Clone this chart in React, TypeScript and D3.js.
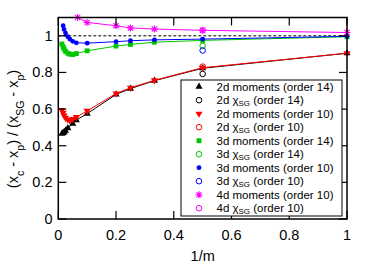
import { useEffect, useRef } from "react";
import * as d3 from "d3";

// 1/m positions and ratios
const black2d14X = [0.0125, 0.0167, 0.02, 0.025, 0.033, 0.05, 0.0625, 0.1, 0.2, 0.25, 0.333, 0.5, 1];
const black2d14Y = [0.466, 0.47, 0.474, 0.482, 0.496, 0.52, 0.54, 0.575, 0.68, 0.712, 0.755, 0.823, 0.905];

const red2d10X = [0.0125, 0.0167, 0.02, 0.025, 0.033, 0.04, 0.05, 0.0625, 0.1, 0.2, 0.25, 0.333, 0.5, 1];
const red2d10Y = [0.595, 0.58, 0.565, 0.552, 0.542, 0.538, 0.545, 0.556, 0.59, 0.685, 0.716, 0.757, 0.826, 0.905];

const green3d14X = [0.0125, 0.0167, 0.02, 0.025, 0.033, 0.04, 0.05, 0.0625, 0.1, 0.2, 0.25, 0.333, 0.5, 1];
const green3d14Y = [0.955, 0.94, 0.928, 0.915, 0.905, 0.9, 0.898, 0.903, 0.918, 0.944, 0.953, 0.965, 0.975, 0.995];

const blue3d10X = [0.0167, 0.02, 0.025, 0.033, 0.04, 0.05, 0.0625, 0.1, 0.2, 0.25, 0.333, 0.5, 1];
const blue3d10Y = [1.055, 1.035, 1.015, 0.995, 0.982, 0.97, 0.962, 0.96, 0.968, 0.973, 0.978, 0.982, 0.997];

const mag4d10X = [0.0667, 0.1, 0.2, 0.25, 0.333, 0.5, 1];
const mag4d10Y = [1.1, 1.073, 1.055, 1.043, 1.037, 1.03, 1.018];

// chi_SG estimates, all at 1/m = 0.5
const chiX = [0.5, 0.5, 0.5, 0.5, 0.5];
const chiY = [0.792, 0.832, 0.945, 0.92, 1.03];
const chiColors = ["#000000", "#ff0000", "#00c800", "#0000ff", "#ff00ff"];

const xTicks = [0, 0.2, 0.4, 0.6, 0.8, 1];
const yTicks = [0, 0.2, 0.4, 0.6, 0.8, 1];

const legendLabels = [
  ["2d moments (order 14)", null],
  ["2d ", "(order 14)"],
  ["2d moments (order 10)", null],
  ["2d ", "(order 10)"],
  ["3d moments (order 14)", null],
  ["3d ", "(order 14)"],
  ["3d moments (order 10)", null],
  ["3d ", "(order 10)"],
  ["4d moments (order 10)", null],
  ["4d ", "(order 10)"],
];

const FONT = "'Liberation Sans', Arial, Helvetica, sans-serif";

export default function App() {
  const ref = useRef<SVGSVGElement | null>(null);

  useEffect(() => {
    if (!ref.current) return;
    const svg = d3.select(ref.current);
    svg.selectAll("*").remove();

    const left = 58.3, right = 347, top = 17.5, bottom = 219;
    const x = d3.scaleLinear().domain([0, 1]).range([left, right]);
    const y = d3.scaleLinear().domain([0, 1.1]).range([bottom, top]);

    svg.append("defs").append("clipPath").attr("id", "plotclip")
      .append("rect").attr("x", left).attr("y", top).attr("width", right - left).attr("height", bottom - top);

    // dashed reference at 1
    svg.append("line")
      .attr("x1", left).attr("x2", right).attr("y1", y(1)).attr("y2", y(1))
      .attr("stroke", "#000").attr("stroke-width", 1).attr("stroke-dasharray", "3,2");

    const line = d3.line<[number, number]>().x(d => x(d[0])).y(d => y(d[1]));
    const plotG = svg.append("g");

    const triUp = d3.symbol().type(d3.symbolTriangle).size(22);
    const sq = d3.symbol().type(d3.symbolSquare).size(24);

    const drawMarker = (g: any, kind: string, color: string, px: number, py: number) => {
      if (kind === "up") {
        g.append("path").attr("d", triUp()).attr("fill", color)
          .attr("transform", `translate(${px},${py})`);
      } else if (kind === "down") {
        g.append("path").attr("d", triUp()).attr("fill", color)
          .attr("transform", `translate(${px},${py}) rotate(180)`);
      } else if (kind === "square") {
        g.append("path").attr("d", sq()).attr("fill", color)
          .attr("transform", `translate(${px},${py})`);
      } else if (kind === "dot") {
        g.append("circle").attr("cx", px).attr("cy", py).attr("r", 2.4).attr("fill", color);
      } else if (kind === "star") {
        const s = 3.5;
        const p = `M${px - s},${py}L${px + s},${py}M${px},${py - s}L${px},${py + s}` +
          `M${px - s * 0.75},${py - s * 0.75}L${px + s * 0.75},${py + s * 0.75}` +
          `M${px - s * 0.75},${py + s * 0.75}L${px + s * 0.75},${py - s * 0.75}`;
        g.append("path").attr("d", p).attr("stroke", color).attr("stroke-width", 1.1).attr("fill", "none");
      } else if (kind === "ring") {
        g.append("circle").attr("cx", px).attr("cy", py).attr("r", 2.8)
          .attr("fill", "none").attr("stroke", color).attr("stroke-width", 1);
      }
    };

    const series = [
      { xs: black2d14X, ys: black2d14Y, color: "#000000", kind: "up" },
      { xs: red2d10X, ys: red2d10Y, color: "#ff0000", kind: "down" },
      { xs: green3d14X, ys: green3d14Y, color: "#00c800", kind: "square" },
      { xs: blue3d10X, ys: blue3d10Y, color: "#0000ff", kind: "dot" },
      { xs: mag4d10X, ys: mag4d10Y, color: "#ff00ff", kind: "star" },
    ];

    series.forEach(s => {
      const pts: [number, number][] = s.xs.map((v, i) => [v, s.ys[i]]);
      plotG.append("path").attr("d", line(pts)).attr("fill", "none")
        .attr("stroke", s.color).attr("stroke-width", 1).attr("clip-path", "url(#plotclip)");
      pts.forEach(p => drawMarker(plotG, s.kind, s.color, x(p[0]), y(p[1])));
    });

    chiX.forEach((v, i) => drawMarker(plotG, "ring", chiColors[i], x(v), y(chiY[i])));

    // frame and inward ticks
    svg.append("rect").attr("x", left).attr("y", top).attr("width", right - left).attr("height", bottom - top)
      .attr("fill", "none").attr("stroke", "#000").attr("stroke-width", 1.5);
    const tl = 8;
    xTicks.forEach(t => {
      svg.append("line").attr("x1", x(t)).attr("x2", x(t)).attr("y1", bottom).attr("y2", bottom - tl)
        .attr("stroke", "#000").attr("stroke-width", 1.2);
      svg.append("line").attr("x1", x(t)).attr("x2", x(t)).attr("y1", top).attr("y2", top + tl)
        .attr("stroke", "#000").attr("stroke-width", 1.2);
      svg.append("text").attr("x", x(t)).attr("y", 239.5).attr("text-anchor", "middle")
        .attr("font-family", FONT).attr("font-size", 14.5).text(d3.format("~g")(t));
    });
    yTicks.forEach(t => {
      svg.append("line").attr("x1", left).attr("x2", left + tl).attr("y1", y(t)).attr("y2", y(t))
        .attr("stroke", "#000").attr("stroke-width", 1.2);
      svg.append("line").attr("x1", right).attr("x2", right - tl).attr("y1", y(t)).attr("y2", y(t))
        .attr("stroke", "#000").attr("stroke-width", 1.2);
      svg.append("text").attr("x", 52.5).attr("y", y(t) + 5).attr("text-anchor", "end")
        .attr("font-family", FONT).attr("font-size", 14.5).text(d3.format("~g")(t));
    });

    svg.append("text").attr("x", (left + right) / 2).attr("y", 261).attr("text-anchor", "middle")
      .attr("font-family", FONT).attr("font-size", 14.5).text("1/m");

    const yl = svg.append("text").attr("transform", "translate(18,129) rotate(-90)")
      .attr("text-anchor", "middle").attr("font-family", FONT).attr("font-size", 14.5);
    yl.append("tspan").text("(x");
    yl.append("tspan").attr("baseline-shift", "sub").attr("font-size", 10.5).text("c");
    yl.append("tspan").text(" - x");
    yl.append("tspan").attr("baseline-shift", "sub").attr("font-size", 10.5).text("p");
    yl.append("tspan").text(") / (x");
    yl.append("tspan").attr("baseline-shift", "sub").attr("font-size", 10.5).text("SG");
    yl.append("tspan").text(" - x");
    yl.append("tspan").attr("baseline-shift", "sub").attr("font-size", 10.5).text("p");
    yl.append("tspan").text(")");

    // legend
    const lg = svg.append("g");
    lg.append("rect").attr("x", 181).attr("y", 80).attr("width", 161).attr("height", 136)
      .attr("fill", "#fff").attr("stroke", "#000").attr("stroke-width", 1);
    const kinds = ["up", "ring", "down", "ring", "square", "ring", "dot", "ring", "star", "ring"];
    const lcolors = ["#000000", "#000000", "#ff0000", "#ff0000", "#00c800", "#00c800", "#0000ff", "#0000ff", "#ff00ff", "#ff00ff"];
    legendLabels.forEach((lab, i) => {
      const cy = 86.7 + i * 13.5;
      drawMarker(lg, kinds[i], lcolors[i], 199, cy);
      const t = lg.append("text").attr("x", 216.5).attr("y", cy + 4).attr("font-family", FONT).attr("font-size", 11.5);
      if (lab[1] === null) {
        t.text(lab[0] as string);
      } else {
        t.append("tspan").text(lab[0] as string + "\u03c7");
        t.append("tspan").attr("dy", 2).attr("font-size", 8).text("SG");
        t.append("tspan").attr("dy", -2).text(" " + lab[1]);
      }
    });
  }, []);

  return (
    <svg ref={ref} width={374} height={267}
      style={{ position: "absolute", left: 0, top: 0, background: "#fff" }} />
  );
}
